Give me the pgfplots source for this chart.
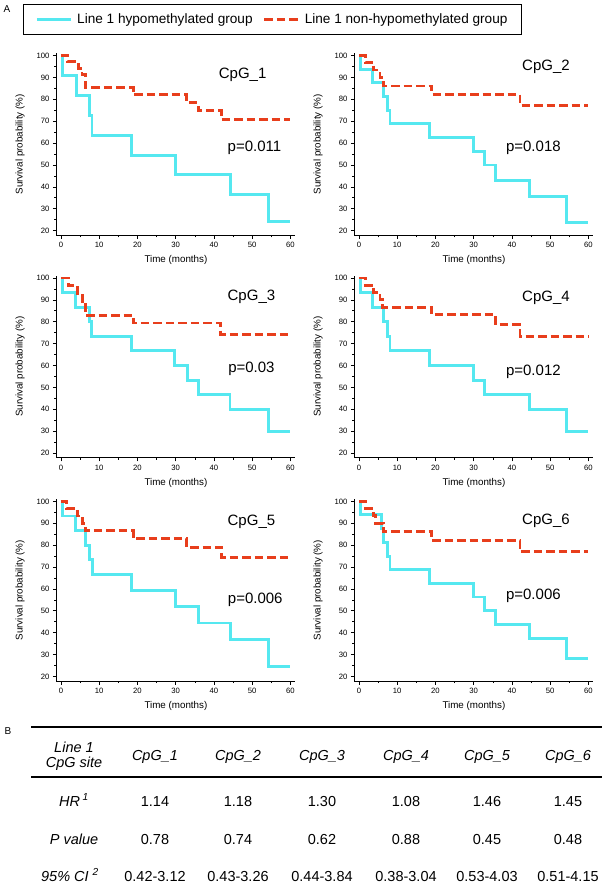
\documentclass[border=0pt]{standalone}
\usepackage{pgfplots}
\pgfplotsset{compat=1.18}
\usepackage{fontspec}
\setmainfont{Liberation Sans}
\definecolor{cyanc}{RGB}{85,232,240}
\definecolor{redc}{RGB}{232,62,28}
\newcommand{\fs}[1]{\fontsize{#1}{#1}\selectfont}
\pgfplotsset{
 km/.style={
  scale only axis, width=239pt, height=182pt,
  xmin=-1.2, xmax=61.3, ymin=17.8, ymax=101,
  axis x line*=bottom, axis y line*=left,
  axis line style={line width=0.7pt,-},
  xtick={0,10,...,60}, ytick={20,30,...,100},
  minor x tick num=1, minor y tick num=1,
  tick align=outside, major tick length=3.5pt, minor tick length=2pt,
  tick style={line width=0.6pt,black},
  ticklabel style={font=\fs{7.7}},
  /pgf/number format/assume math mode=true,
  xlabel={Time (months)}, ylabel={Survival probability (\%)},
  label style={font=\fs{9.8}},
  xlabel style={at={([yshift=-25pt]axis description cs:0.5,0)}, anchor=center},
  ylabel style={at={([xshift=-36.4pt]axis description cs:0,0.5)}, anchor=center},
 },
 hypo/.style={const plot, color=cyanc, line width=2.9pt},
 non/.style={const plot, color=redc, line width=2.9pt, dash pattern=on 8.5pt off 4pt},
}
\begin{document}
\begin{tikzpicture}
\path[use as bounding box] (0,0) rectangle (611pt,893pt);
% ---------- panel 1
\begin{axis}[km, at={(56.4pt,657.6pt)}, anchor=south west,
  legend columns=2,
  legend cell align=left,
  legend image code/.code={\draw[#1] (0pt,0pt) -- (34pt,0pt);},
  legend style={at={(axis description cs:-0.1397,1.2714)}, anchor=north west,
    draw=black, line width=1.2pt, inner xsep=11.7pt, inner ysep=7.3pt, font=\fs{13.6},
    /tikz/every even column/.append style={column sep=8.3pt},
    /tikz/every odd column/.append style={column sep=3pt}},
]
\addplot[hypo] coordinates {(0,100)(0.5,90.9)(4,81.8)(7.4,72.7)(8.1,63.6)(18.5,54.5)(30,45.5)(44.3,36.4)(54.3,24.2)(60,24.2)};
\addlegendentry{Line 1 hypomethylated group}
\addplot[non] coordinates {(0,100)(1.8,97.1)(4.5,94.1)(5.5,91.2)(6.4,85.3)(18.9,82.0)(32.8,78.5)(35.9,74.8)(42,70.6)(60,70.6)};
\addlegendentry{Line 1 non-hypomethylated group}
\node[font=\fs{15}] at (axis cs:47.5,91) {CpG\_1};
\node[font=\fs{15}] at (axis cs:50.6,57.7) {p=0.011};
\end{axis}
% ---------- panel 2
\begin{axis}[km, at={(354.4pt,657.6pt)}, anchor=south west]
\addplot[hypo] coordinates {(0,100)(0.5,93.8)(3.6,87.5)(6.5,81.3)(7.4,75)(8.1,68.8)(18.4,62.5)(29.9,56.3)(32.9,50)(35.8,42.9)(44.5,35.7)(54.3,23.8)(60,23.8)};
\addplot[non] coordinates {(0,100)(1.6,96.7)(3.9,93.4)(5.5,90)(6.4,86.1)(19,82.2)(42.1,77.2)(60,77.2)};
\node[font=\fs{15}] at (axis cs:48.9,95) {CpG\_2};
\node[font=\fs{15}] at (axis cs:45.6,57.7) {p=0.018};
\end{axis}
% ---------- panel 3
\begin{axis}[km, at={(56.4pt,435.2pt)}, anchor=south west]
\addplot[hypo] coordinates {(0,100)(0.5,93.3)(3.9,86.7)(7.4,80)(8,73.3)(18.5,66.7)(29.8,60)(33,53.3)(35.9,46.7)(44.2,40)(54.2,30)(60,30)};
\addplot[non] coordinates {(0,100)(1.9,96.5)(4.4,92.9)(5.6,89.3)(6.5,82.9)(18.9,79.4)(41.8,74.2)(60,74.2)};
\node[font=\fs{15}] at (axis cs:49.8,91.2) {CpG\_3};
\node[font=\fs{15}] at (axis cs:49.8,58.5) {p=0.03};
\end{axis}
% ---------- panel 4
\begin{axis}[km, at={(354.4pt,435.2pt)}, anchor=south west]
\addplot[hypo] coordinates {(0,100)(0.5,93.3)(3.6,86.7)(6.4,80)(7.4,73.3)(8.1,66.7)(18.4,60)(29.9,53.3)(32.9,46.7)(44.5,40)(54.3,30)(60,30)};
\addplot[non] coordinates {(0,100)(1.6,96.7)(3.9,93.3)(5.5,90)(6.2,86.7)(19,83.3)(35.8,78.6)(42.1,73.3)(60,73.3)};
\node[font=\fs{15}] at (axis cs:48.9,90.8) {CpG\_4};
\node[font=\fs{15}] at (axis cs:45.6,57) {p=0.012};
\end{axis}
% ---------- panel 5
\begin{axis}[km, at={(56.4pt,211.8pt)}, anchor=south west]
\addplot[hypo] coordinates {(0,100)(0.5,93.3)(3.9,86.7)(6.5,80)(7.4,73.3)(8.2,66.7)(18.5,59.3)(30,51.9)(35.9,44.4)(44.3,37)(54.3,24.7)(60,24.7)};
\addplot[non] coordinates {(0,100)(1.5,96.6)(4.3,93.3)(5.7,90)(6.4,86.5)(18.9,83)(32.8,79)(42,74.4)(60,74.4)};
\node[font=\fs{15}] at (axis cs:49.8,90.7) {CpG\_5};
\node[font=\fs{15}] at (axis cs:50.8,55) {p=0.006};
\end{axis}
% ---------- panel 6
\begin{axis}[km, at={(354.4pt,211.8pt)}, anchor=south west]
\addplot[hypo] coordinates {(0,100)(0.5,93.8)(5.9,87.5)(6.5,81.3)(7.4,75)(8.1,68.8)(18.4,62.5)(29.9,56.3)(32.9,50)(35.8,43.8)(44.5,37.5)(54.3,28.1)(60,28.1)};
\addplot[non] coordinates {(0,100)(1.7,96.7)(3.7,93.4)(4.4,90)(6.3,86.1)(19,82)(42.1,77.1)(60,77.1)};
\node[font=\fs{15}] at (axis cs:48.9,91) {CpG\_6};
\node[font=\fs{15}] at (axis cs:45.6,57) {p=0.006};
\end{axis}
% ---------- panel letters
\node[font=\fs{10}] at (7pt,884pt) {A};
\node[font=\fs{10}] at (8pt,162pt) {B};
% ---------- table B
\draw[line width=2pt] (31pt,166pt) -- (602pt,166pt);
\draw[line width=2pt] (31pt,116pt) -- (602pt,116pt);
\begin{scope}[every node/.style={font=\fs{14.5}\itshape, inner sep=0pt}]
\node[anchor=base] at (74pt,140.8pt) {Line 1};
\node[anchor=base] at (74pt,125.8pt) {CpG site};
\node[anchor=base] at (155pt,132.8pt) {CpG\_1};
\node[anchor=base] at (238pt,132.8pt) {CpG\_2};
\node[anchor=base] at (322pt,132.8pt) {CpG\_3};
\node[anchor=base] at (406pt,132.8pt) {CpG\_4};
\node[anchor=base] at (487pt,132.8pt) {CpG\_5};
\node[anchor=base] at (568pt,132.8pt) {CpG\_6};
\node[anchor=base] at (74pt,86.8pt) {HR\,\textsuperscript{1}};
\node[anchor=base] at (74pt,48.8pt) {P value};
\node[anchor=base] at (70pt,11.8pt) {95\% CI \textsuperscript{2}};
\end{scope}
\begin{scope}[every node/.style={font=\fs{14.5}, inner sep=0pt, anchor=base}]
\node at (155pt,86.8pt) {1.14};
\node at (238pt,86.8pt) {1.18};
\node at (322pt,86.8pt) {1.30};
\node at (406pt,86.8pt) {1.08};
\node at (487pt,86.8pt) {1.46};
\node at (568pt,86.8pt) {1.45};
\node at (155pt,48.8pt) {0.78};
\node at (238pt,48.8pt) {0.74};
\node at (322pt,48.8pt) {0.62};
\node at (406pt,48.8pt) {0.88};
\node at (487pt,48.8pt) {0.45};
\node at (568pt,48.8pt) {0.48};
\node at (155pt,11.8pt) {0.42-3.12};
\node at (238pt,11.8pt) {0.43-3.26};
\node at (322pt,11.8pt) {0.44-3.84};
\node at (406pt,11.8pt) {0.38-3.04};
\node at (487pt,11.8pt) {0.53-4.03};
\node at (568pt,11.8pt) {0.51-4.15};
\end{scope}
\end{tikzpicture}
\end{document}
